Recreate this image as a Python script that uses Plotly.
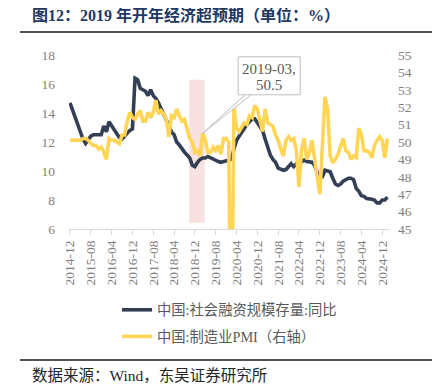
import plotly.graph_objects as go
from plotly.subplots import make_subplots

# ---------------- data ----------------
months = []
y, m = 2014, 12
for _ in range(123):
    months.append(f"{y}-{m:02d}")
    m += 1
    if m > 12:
        m = 1
        y += 1

tsf_yoy = [
    14.7, 14.2, 13.7, 13.2, 12.7, 12.2, 11.9, 12.2, 12.4, 12.5, 12.5, 12.5,
    12.5, 13.1, 12.7, 13.4, 13.1, 12.9, 12.6, 12.3, 12.2, 12.4, 12.6, 12.8,
    12.9, 16.4, 16.3, 15.7, 15.6, 15.5, 15.2, 15.6, 15.2, 15.0, 14.7, 14.3,
    14.0, 13.6, 13.1, 12.7, 12.5, 12.0, 11.8, 11.5, 11.3, 11.1, 10.9, 10.4,
    10.3, 10.6, 10.8, 10.9, 10.9, 11.0, 10.9, 10.8, 10.7, 10.65, 10.6, 10.65,
    10.65, 10.7, 10.8, 11.5, 12.1, 12.4, 12.7, 12.9, 13.2, 13.4, 13.6, 13.6,
    13.3, 13.1, 12.8, 12.2, 11.6, 11.1, 10.8, 10.6, 10.2, 10.1, 10.05, 10.1,
    10.3, 10.5, 10.3, 10.5, 10.5, 10.65, 10.75, 10.65, 10.6, 10.6, 10.4, 9.9,
    9.6, 9.6, 10.05, 10.0, 9.95, 9.5, 9.1, 9.0, 9.1, 9.3, 9.4, 9.5,
    9.5, 9.4, 8.8, 8.6, 8.3, 8.25, 8.1, 8.1, 8.05, 8.0, 7.8, 7.8,
    8.0, 8.0, 8.2,
]

pmi = [
    50.1,
    50.1, 50.1, 50.1, 50.1, 50.2, 50.2, 50.1, 49.9, 49.8, 49.8, 49.6, 49.7,
    49.4, 49.0, 50.2, 50.1, 50.1, 50.0, 49.9, 50.4, 50.4, 51.2, 51.7, 51.4,
    51.3, 51.6, 51.8, 51.2, 51.2, 51.7, 51.4, 51.7, 52.4, 51.6, 51.8, 51.6,
    51.3, 50.3, 51.5, 51.4, 51.9, 51.5, 51.2, 51.3, 50.8, 50.2, 50.0, 49.4,
    49.5, 49.2, 50.5, 50.1, 49.4, 49.4, 49.7, 49.5, 49.8, 49.3, 50.2, 50.2,
    50.0, 35.7, 52.0, 50.8, 50.6, 50.9, 51.1, 51.0, 51.5, 51.4, 52.1, 51.9,
    51.3, 50.6, 51.9, 51.1, 51.0, 50.9, 50.4, 50.1, 49.6, 49.2, 50.1, 50.3,
    50.1, 50.2, 49.5, 47.4, 49.6, 50.2, 49.0, 49.4, 50.1, 49.2, 48.0, 47.0,
    50.1, 52.6, 51.9, 49.2, 48.8, 49.0, 49.3, 49.7, 50.2, 49.5, 49.4, 49.0,
    49.2, 49.1, 50.8, 50.4, 49.5, 49.5, 49.4, 49.1, 49.8, 50.1, 50.3, 50.1,
    49.1, 50.2,
]

tick_labels = ["2014-12", "2015-08", "2016-04", "2016-12", "2017-08", "2018-04",
               "2018-12", "2019-08", "2020-04", "2020-12", "2021-08", "2022-04",
               "2022-12", "2023-08", "2024-04", "2024-12"]

left_ticks = [6, 8, 10, 12, 14, 16, 18]
right_ticks = [45, 46, 47, 48, 49, 50, 51, 52, 53, 54, 55]

series_names = ["中国:社会融资规模存量:同比", "中国:制造业PMI（右轴）"]
title_text = "图12：2019 年开年经济超预期（单位：%）"
source_text = "数据来源：Wind，东吴证券研究所"
callout_month = "2019-03"
callout_value = 50.5
shade_start, shade_end = 45.8, 51.8   # category positions of shaded band
shade_low, shade_high = 6.43, 16.3

# ---------------- styling ----------------
# The page body has an 8px default margin, so the figure is 8px smaller and
# every page position is converted to figure coordinates.
FONT = "Liberation Serif, 'Noto Sans CJK SC', serif"
BLUE = "#333F55"
YELLOW = "#FFD555"
GREY = "#7F7F7F"
W, H = 432, 384


def px_x(page_x):   # page pixel -> paper x
    return (page_x - 69) / 320


def px_y(page_y):   # page pixel -> paper y
    return (229 - page_y) / 174


fig = make_subplots(specs=[[{"secondary_y": True}]])

fig.add_trace(go.Scatter(x=months, y=tsf_yoy, mode="lines", name=series_names[0],
                         legendgroup="a",
                         line=dict(color=BLUE, width=3.6)), secondary_y=False)
fig.add_trace(go.Scatter(x=months, y=pmi, mode="lines", name=series_names[1],
                         legendgroup="b",
                         line=dict(color=YELLOW, width=3.6)), secondary_y=True)

# shaded band
fig.add_shape(type="rect", xref="x", yref="y", x0=shade_start, x1=shade_end,
              y0=shade_low, y1=shade_high, fillcolor="#F8E1E1", line_width=0,
              layer="below")

# callout wedge + box anchored on the data point
cx = months.index(callout_month)
fig.add_shape(type="path", xref="x", yref="y2", xsizemode="pixel", ysizemode="pixel",
              xanchor=cx, yanchor=callout_value,
              path="M 0,0 L 43,39 L 49,39 Z",
              fillcolor="white", line=dict(color="#BFBFBF", width=1), layer="above")
fig.add_shape(type="rect", xref="x", yref="y2", xsizemode="pixel", ysizemode="pixel",
              xanchor=cx, yanchor=callout_value,
              x0=35.5, x1=97.5, y0=38.5, y1=76.5,
              fillcolor="white", line=dict(color="#BFBFBF", width=1), layer="above")
fig.add_annotation(x=cx, y=callout_value, xref="x", yref="y2", showarrow=False,
                   text=f"{callout_month},", xshift=66.5, yshift=64,
                   font=dict(family=FONT, size=15, color="#595959"))
fig.add_annotation(x=cx, y=callout_value, xref="x", yref="y2", showarrow=False,
                   text=f"{callout_value}", xshift=66.5, yshift=48,
                   font=dict(family=FONT, size=15, color="#595959"))

# title, rules, source
fig.add_annotation(xref="paper", yref="paper", x=px_x(30), y=px_y(15),
                   xanchor="left", yanchor="middle", showarrow=False,
                   text=f"<b>{title_text}</b>",
                   font=dict(family=FONT, size=16, color="#1F3864"))
for yy in (32, 360):
    fig.add_shape(type="line", xref="paper", yref="paper",
                  x0=px_x(20), x1=px_x(435), y0=px_y(yy), y1=px_y(yy),
                  line=dict(color="#1A1A1A", width=1.5))
fig.add_annotation(xref="paper", yref="paper", x=px_x(30), y=px_y(375),
                   xanchor="left", yanchor="middle", showarrow=False,
                   text=source_text,
                   font=dict(family=FONT, size=15.5, color="#262626"))

fig.update_layout(
    width=W, height=H,
    margin=dict(l=61, r=51, t=47, b=163, autoexpand=False),
    paper_bgcolor="white", plot_bgcolor="white",
    showlegend=True,
    legend=dict(xref="container", yref="container",
                x=(117 - 8) / W, y=1 - (294 - 8) / H,
                xanchor="left", yanchor="top", orientation="v",
                font=dict(family=FONT, size=14.3, color="#595959"),
                tracegroupgap=5, bgcolor="rgba(0,0,0,0)"),
    font=dict(family=FONT),
)

fig.update_xaxes(type="category", range=[-0.38, 122.6], domain=[0, 1],
                 tickmode="array", tickvals=tick_labels, ticktext=tick_labels,
                 tickangle=-90,
                 showline=True, linecolor="#D9D9D9", linewidth=1,
                 ticks="outside", ticklen=5, tickcolor="#D9D9D9",
                 showgrid=False, zeroline=False, automargin=False,
                 tickfont=dict(family=FONT, size=13.5, color=GREY))
fig.update_yaxes(range=[6, 18], tickvals=left_ticks, showgrid=False, zeroline=False,
                 showline=False, ticks="", ticklabelstandoff=13, automargin=False,
                 tickfont=dict(family=FONT, size=13.5, color=GREY), secondary_y=False)
fig.update_yaxes(range=[45, 55], tickvals=right_ticks, showgrid=False, zeroline=False,
                 showline=False, ticks="", ticklabelstandoff=8, automargin=False,
                 tickfont=dict(family=FONT, size=13.5, color=GREY), secondary_y=True)

fig.write_html("out.html")
